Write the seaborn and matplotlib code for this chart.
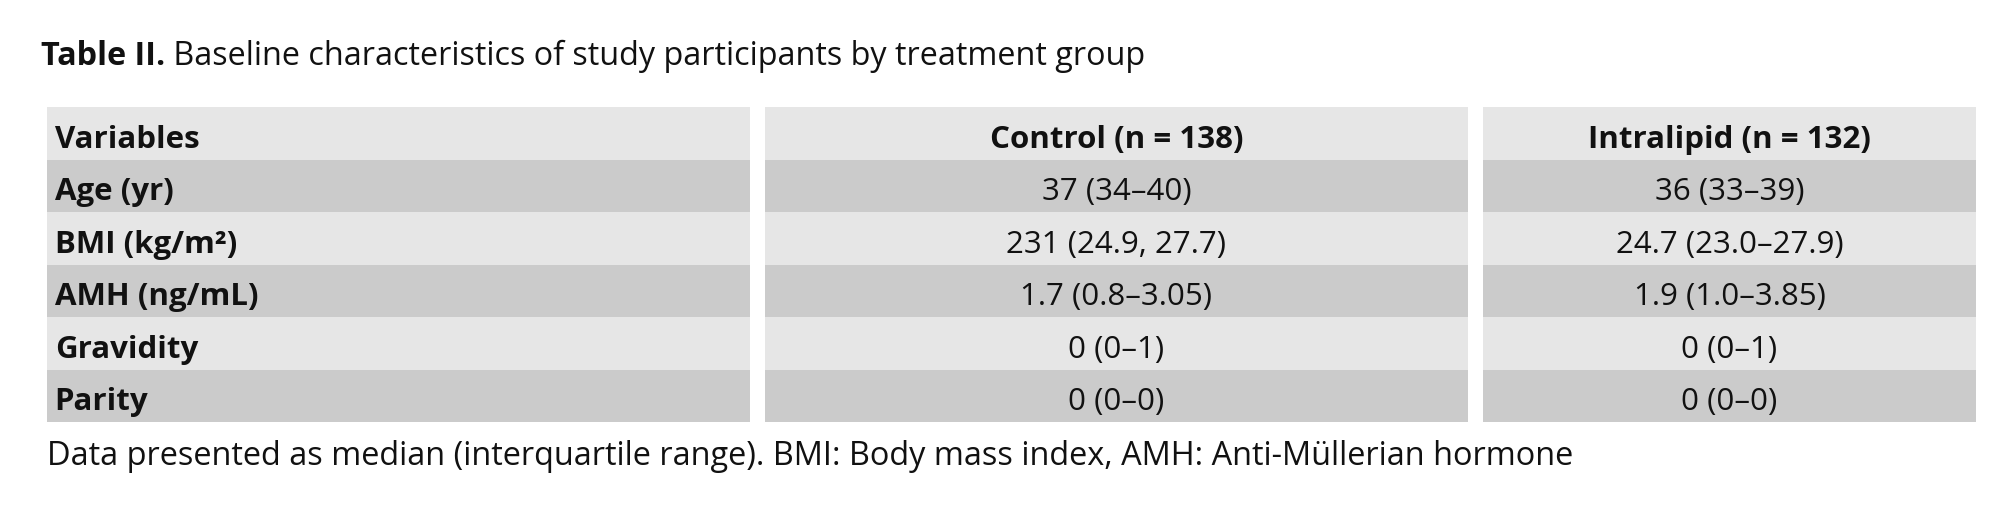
import numpy as np
import pandas as pd
import seaborn as sns
import matplotlib.pyplot as plt
from matplotlib.colors import ListedColormap

# table content
variables = ['Variables', 'Age (yr)', 'BMI (kg/m²)', 'AMH (ng/mL)', 'Gravidity', 'Parity']
control = ['Control (n = 138)', '37 (34–40)', '231 (24.9, 27.7)', '1.7 (0.8–3.05)', '0 (0–1)', '0 (0–0)']
intralipid = ['Intralipid (n = 132)', '36 (33–39)', '24.7 (23.0–27.9)', '1.9 (1.0–3.85)', '0 (0–1)', '0 (0–0)']
shade = [0, 1, 0, 1, 0, 1]

title_bold = 'Table II.'
title_rest = ' Baseline characteristics of study participants by treatment group'
footnote = 'Data presented as median (interquartile range). BMI: Body mass index, AMH: Anti-Müllerian hormone'

sns.set_theme(style='white')
plt.rcParams['font.family'] = ['Open Sans', 'DejaVu Sans']

W, H = 2000, 513
fig = plt.figure(figsize=(W / 100, H / 100), dpi=100)
fig.patch.set_facecolor('white')

cmap = ListedColormap(['#e6e6e6', '#cbcbcb'])
shade_df = pd.DataFrame({'s': shade})

# column extents in pixels (left, right)
cols = [(47, 750), (765, 1468), (1483, 1976)]
top, bottom = 107, 422
fs = 22.5

for ci, (x0, x1) in enumerate(cols):
    ax = fig.add_axes([x0 / W, 1 - bottom / H, (x1 - x0) / W, (bottom - top) / H])
    sns.heatmap(shade_df, cmap=cmap, vmin=0, vmax=1, cbar=False, ax=ax,
                xticklabels=False, yticklabels=False, linewidths=0)
    texts = [variables, control, intralipid][ci]
    for ri, t in enumerate(texts):
        weight = 'bold' if (ci == 0 or ri == 0) else 'normal'
        if ci == 0:
            ax.text(0.011, ri + 0.78, t, ha='left', va='baseline',
                    fontsize=fs, fontweight=weight, color='#111111')
        else:
            ax.text(0.5, ri + 0.78, t, ha='center', va='baseline',
                    fontsize=fs, fontweight=weight, color='#111111')
    ax.set_xlabel('')
    ax.set_ylabel('')

# title
fig.canvas.draw()
renderer = fig.canvas.get_renderer()
t1 = fig.text(41 / W, 1 - 65 / H, title_bold, fontsize=23.3, fontweight='bold',
              ha='left', va='baseline', color='#111111')
bb = t1.get_window_extent(renderer=renderer)
fig.text(bb.x1 / W, 1 - 65 / H, title_rest, fontsize=23.3, ha='left',
         va='baseline', color='#111111')

fig.text(47 / W, 1 - 465 / H, footnote, fontsize=23.4, ha='left', va='baseline',
         color='#111111')

fig.savefig('out.png', dpi=100, facecolor='white')
